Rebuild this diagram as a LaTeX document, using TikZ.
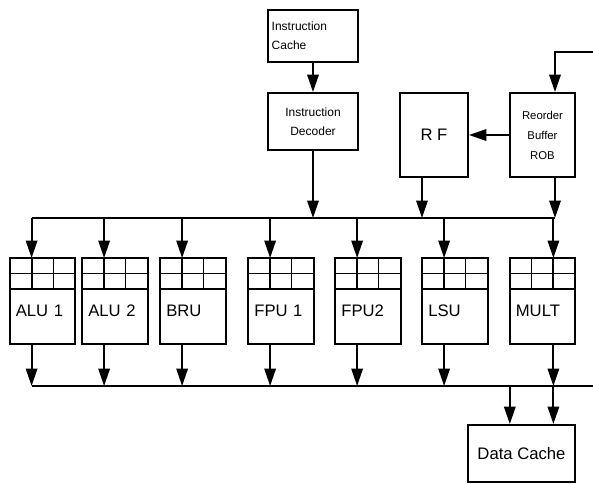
\documentclass[tikz,border=0pt]{standalone}
\usepackage{fontspec}
\setmainfont{Liberation Sans}
\usetikzlibrary{arrows.meta,calc}
\begin{document}
\begin{tikzpicture}[
            x=0.75pt,y=-0.75pt,
            box/.style={
                draw,rectangle,line width=1.4pt,inner sep=2pt,
                fill=white
            },
            small/.style={font=\fontsize{9}{14}\selectfont},
            unit/.style={
                box,text width=40pt,inner xsep=4.5pt,align=left,outer sep=0pt,
                minimum height=41.25pt,text depth=9pt,
                font=\fontsize{12.5}{14}\selectfont
            },
            queue/.style={
                draw,rectangle,line width=1.4pt,inner sep=0pt,outer sep=0pt,
                minimum width=49pt,minimum height=23.25pt,
                path picture={
                    \draw[line width=0.6pt] (path picture bounding box.west) -- (path picture bounding box.east);
                    \foreach\f in {1,2}{
                        \draw[line width=0.6pt]
                            ($(path picture bounding box.north west)!\f/3!(path picture bounding box.north east)$) --
                            ($(path picture bounding box.south west)!\f/3!(path picture bounding box.south east)$);
                    }
                }
            },
            arr/.style={line width=1.5pt,-{Triangle[length=13pt,width=8.5pt]}},
            bus/.style={line width=1.8pt}
        ]
    \useasboundingbox (0,0) rectangle (593,483);
    % Front end
        \node[box,small,minimum width=67.5pt,minimum height=39pt,text width=62pt,align=left] (ic) at (313,36) {Instruction\\Cache};
        \node[box,small,minimum width=67.5pt,minimum height=42.75pt,align=center] (id) at (313,121.5) {Instruction\\Decoder};
        \node[box,minimum width=51pt,minimum height=63pt,font=\fontsize{12.5}{14}\selectfont] (rf) at (434,135) {R F};
        \node[box,minimum width=48.75pt,minimum height=63pt,align=center,font=\fontsize{8.5}{15}\selectfont] (rob) at (542.5,135) {Reorder\\Buffer\\ROB};
        \node[box,minimum width=80.25pt,minimum height=42.75pt,font=\fontsize{12.5}{14}\selectfont] (dc) at (521.5,453.5) {Data Cache};
    % Buses
        \coordinate (robx) at (555,0);
        \coordinate (feed) at (593,52);
        \coordinate (busT) at (0,218);
        \coordinate (busB) at (0,386);
        \coordinate (busE) at (593,386);
    % Units
    \foreach\n/\t/\cx/\f in {alu1/ALU 1/42.5/1,alu2/ALU 2/115/1,bru/BRU/193/1,fpu1/FPU 1/281/1,fpu2/FPU2/368/1,lsu/LSU/455/1,mult/MULT/542.5/2}{
        \node[unit] (\n) at (\cx,316.5) {\t};
        \node[queue,anchor=south] (\n-q) at (\n.north) {};
        \coordinate (\n-in) at ($(\n-q.north west)!\f/3!(\n-q.north east)$);
        \draw[line width=1.5pt] (\n-in) -- (\n.north -| \n-in);
        \draw[arr] (\n-in |- busT) -- (\n-in);
        \draw[arr] (\n.south -| \n-in) -- (\n-in |- busB);
    }
        \draw[bus] (alu1-in |- busT) -- (robx |- busT);
        \draw[bus] (alu1-in |- busB) -- (busE);
    % Connectors
        \draw[arr] (ic.south) -- (id.north);
        \draw[arr] (id.south) -- (id.south |- busT);
        \draw[arr] ([xshift=-9pt]rf.south) -- ([xshift=-9pt]rf.south |- busT);
        \draw[arr] (rob.west) -- (rf.east);
        \draw[arr] (feed) -| (rob.north -| robx);
        \draw[arr] (rob.south -| robx) -- (robx |- busT);
        \draw[arr] (mult.south west |- busB) -- (mult.south west |- dc.north);
        \draw[arr] (mult-in |- busB) -- (mult-in |- dc.north);
    \end{tikzpicture}
\end{document}
